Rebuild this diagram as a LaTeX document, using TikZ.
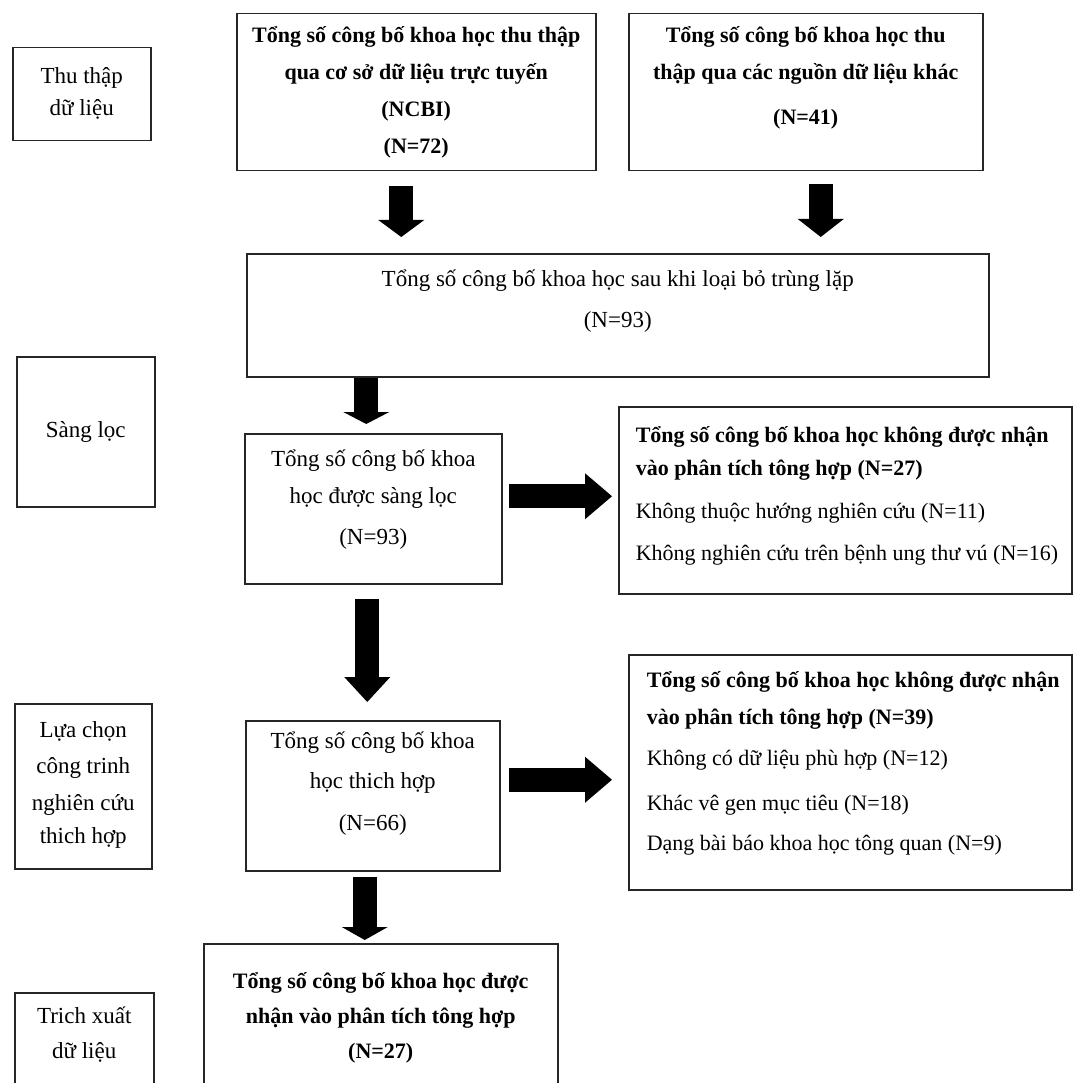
\documentclass[tikz,border=0pt]{standalone}
\usepackage{fontspec}
\setmainfont{Liberation Serif}
\usetikzlibrary{arrows.meta}

% text block of a box: width, height, alignment, top gap, lines
\newcommand{\inbox}[5]{%
  \begin{minipage}[t][#2][t]{#1}#3\vspace*{#4}\rule{0pt}{23pt}#5\end{minipage}}

\tikzset{
  box/.style={draw=black!85, line width=1.5pt, inner sep=0pt, anchor=north west},
  lab/.style={box, font=\fontsize{23}{37}\selectfont},
  src/.style={box, font=\fontsize{22}{37}\selectfont\bfseries},
  main/.style={box, font=\fontsize{23}{37}\selectfont},
  rej/.style={box, font=\fontsize{22}{37}\selectfont},
  blockarrow/.style={line width=24pt, -{Triangle[length=#1, width=46pt, line width=0pt]}},
  blockarrow/.default=17pt
}

\begin{document}
\begin{tikzpicture}[x=1pt, y=-1pt]
  \useasboundingbox (0,0) rectangle (1073,1083);
  \clip (0,0) rectangle (1073,1083);
  \fill[white] (0,0) rectangle (1073,1083);

  % stage labels
  \node[lab] (collect) at (12,47) {\inbox{138pt}{93pt}{\centering}{13pt}{Thu thập\\[-5pt]dữ liệu}};
  \node[lab] (screen) at (16,356) {\inbox{138pt}{150pt}{\centering}{58pt}{Sàng lọc}};
  \node[lab] (select) at (14,703) {\inbox{137pt}{165pt}{\centering}{11pt}{Lựa chọn\\[-1pt]công trinh\\nghiên cứu\\[-4pt]thich hợp}};
  \node[lab] (extract) at (14,992) {\inbox{139pt}{120pt}{\centering}{8pt}{Trich xuất\\[-2pt]dữ liệu}};

  % sources
  \node[src] (ncbi) at (236,13) {\inbox{359pt}{157pt}{\centering}{6pt}{Tổng số công bố khoa học thu thập\\qua cơ sở dữ liệu trực tuyến\\(NCBI)\\(N=72)}};
  \node[src] (other) at (628,13) {\inbox{354pt}{157pt}{\centering}{6pt}{Tổng số công bố khoa học thu\\thập qua các nguồn dữ liệu khác\\[8pt](N=41)}};

  % main column
  \node[main] (dedup) at (246,253) {\inbox{742pt}{123pt}{\centering}{10pt}{Tổng số công bố khoa học sau khi loại bỏ trùng lặp\\[4pt](N=93)}};
  \node[main] (screened) at (244,433) {\inbox{257pt}{150pt}{\centering}{10pt}{Tổng số công bố khoa\\học được sàng lọc\\[4pt](N=93)}};
  \node[main] (eligible) at (245,720) {\inbox{254pt}{150pt}{\centering}{5pt}{Tổng số công bố khoa\\[3pt]học thich hợp\\[5pt](N=66)}};
  \node[src] (included) at (203,943) {\inbox{354pt}{170pt}{\centering}{22pt}{Tổng số công bố khoa học được\\[-2pt]nhận vào phân tích tông hợp\\[-2pt](N=27)}};

  % excluded
  \node[rej] (excl1) at (618,406) {\inbox{453pt}{187pt}{\raggedright\leftskip=17pt}{13pt}{{\bfseries Tổng số công bố khoa học không được nhận\\[-4pt]vào phân tích tông hợp (N=27)}\\[6pt]Không thuộc hướng nghiên cứu (N=11)\\[5pt]Không nghiên cứu trên bệnh ung thư vú (N=16)}};
  \node[rej] (excl2) at (628,654) {\inbox{443pt}{235pt}{\raggedright\leftskip=18pt}{10pt}{{\bfseries Tổng số công bố khoa học không được nhận\\vào phân tích tông hợp (N=39)}\\[4pt]Không có dữ liệu phù hợp (N=12)\\[8pt]Khác vê gen mục tiêu (N=18)\\[3pt]Dạng bài báo khoa học tông quan (N=9)}};

  % arrows
  \coordinate (a1) at ([xshift=-15pt]ncbi.south);
  \coordinate (a2) at ([xshift=15pt]other.south);
  \coordinate (a3) at ([xshift=-7pt]screened.north);
  \coordinate (a4) at ([xshift=-6pt]screened.south);
  \coordinate (a5) at ([xshift=-8pt]eligible.south);
  \coordinate (r1) at ([yshift=4pt]excl1.west);
  \coordinate (r2) at ([yshift=-7.5pt]excl2.west);
  \draw[blockarrow, shorten <=15pt, shorten >=16pt] (a1) -- (a1 |- dedup.north);
  \draw[blockarrow=18pt, shorten <=13pt, shorten >=16pt] (a2) -- (a2 |- dedup.north);
  \draw[blockarrow=12pt, shorten >=9pt] (a3 |- dedup.south) -- (a3);
  \draw[blockarrow=25pt, shorten <=14pt, shorten >=18pt] (a4) -- (a4 |- eligible.north);
  \draw[blockarrow=13pt, shorten <=5pt, shorten >=3pt] (a5) -- (a5 |- included.north);
  \draw[blockarrow=27pt, shorten <=6pt, shorten >=6pt] (r1 -| screened.east) -- (r1);
  \draw[blockarrow=27pt, shorten <=8pt, shorten >=16pt] (r2 -| eligible.east) -- (r2);
\end{tikzpicture}
\end{document}
